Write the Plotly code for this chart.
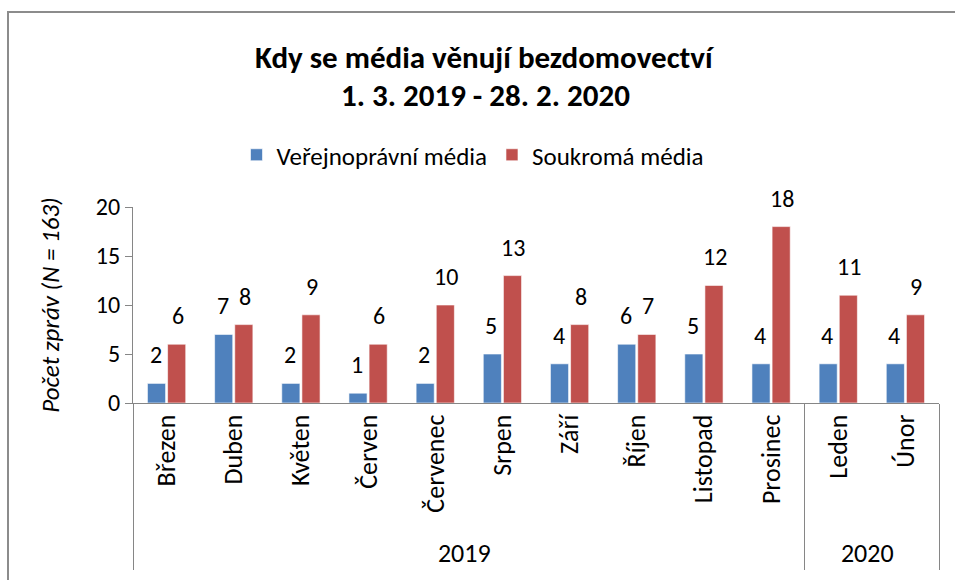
import plotly.graph_objects as go

years = ["2019"] * 10 + ["2020"] * 2
months = ["Březen", "Duben", "Květen", "Červen", "Červenec", "Srpen",
          "Září", "Říjen", "Listopad", "Prosinec", "Leden", "Únor"]
verejne = [2, 7, 2, 1, 2, 5, 4, 6, 5, 4, 4, 4]
soukrome = [6, 8, 9, 6, 10, 13, 8, 7, 12, 18, 11, 9]
series_names = ["Veřejnoprávní média", "Soukromá média"]
colors = ["#4F81BD", "#C0504D"]
title_lines = ["Kdy se média věnují bezdomovectví", "1. 3. 2019 - 28. 2. 2020"]

FONT = "Carlito, Lato, sans-serif"
W, H = 955, 580
ML, MR, MT, MB = 133, 16, 207, 177
PW = W - ML - MR
PH = H - MT - MB

fig = go.Figure()
for name, vals, col in zip(series_names, [verejne, soukrome], colors):
    fig.add_trace(go.Bar(
        x=[years, months], y=vals, name=name,
        marker=dict(color=col, line=dict(color="rgba(255,255,255,0.6)", width=1)),
    ))

# data labels
for k, vals in enumerate([verejne, soukrome]):
    shift = -11 if k == 0 else 11
    for i, v in enumerate(vals):
        fig.add_annotation(x=i, y=v, text=str(v), showarrow=False,
                           xref="x", yref="y", xanchor="center", yanchor="bottom",
                           xshift=shift, yshift=12,
                           font=dict(family=FONT, size=24, color="black"))

def px2x(px):
    return (px - ML) / PW

def py2y(py):
    return (H - MB - py) / PH

# title lines
for txt, ypx in zip(title_lines, [57, 95]):
    fig.add_annotation(x=px2x(485), y=py2y(ypx), xref="paper", yref="paper",
                       text="<b>" + txt + "</b>", showarrow=False,
                       xanchor="center", yanchor="middle",
                       font=dict(family=FONT, size=31, color="black"))

# outer chart border
fig.add_shape(type="rect", xref="paper", yref="paper",
              x0=px2x(8), x1=px2x(965), y0=py2y(590), y1=py2y(12),
              line=dict(color="#8C8C8C", width=2), layer="below")

fig.update_layout(
    width=W, height=H,
    margin=dict(l=ML, r=MR, t=MT, b=MB),
    paper_bgcolor="white", plot_bgcolor="white",
    font=dict(family=FONT, size=24, color="black"),
    barmode="group", bargap=0.4, bargroupgap=0.1,
    showlegend=True,
    legend=dict(orientation="h", x=px2x(473), xanchor="center",
                y=py2y(155), yanchor="middle",
                font=dict(family=FONT, size=25, color="black"),
                bgcolor="rgba(0,0,0,0)"),
)

fig.update_yaxes(range=[0, 20], dtick=5, showgrid=False, zeroline=False,
                 showline=True, linecolor="#868686", linewidth=1.3,
                 ticks="outside", ticklen=7, tickcolor="#868686",
                 tickfont=dict(family=FONT, size=24, color="black"),
                 title=dict(text="<i>Počet zpráv (N = 163)</i>", standoff=28,
                            font=dict(family=FONT, size=25, color="black")))
fig.update_xaxes(type="multicategory", showgrid=False, zeroline=False,
                 showline=True, linecolor="#868686", linewidth=1.3,
                 ticks="", tickangle=-90,
                 showdividers=True, dividercolor="#868686", dividerwidth=1.3,
                 tickfont=dict(family=FONT, size=26, color="black"))

fig.write_html("out.html", config={"displayModeBar": False},
               post_script="document.body.style.margin='0';")
